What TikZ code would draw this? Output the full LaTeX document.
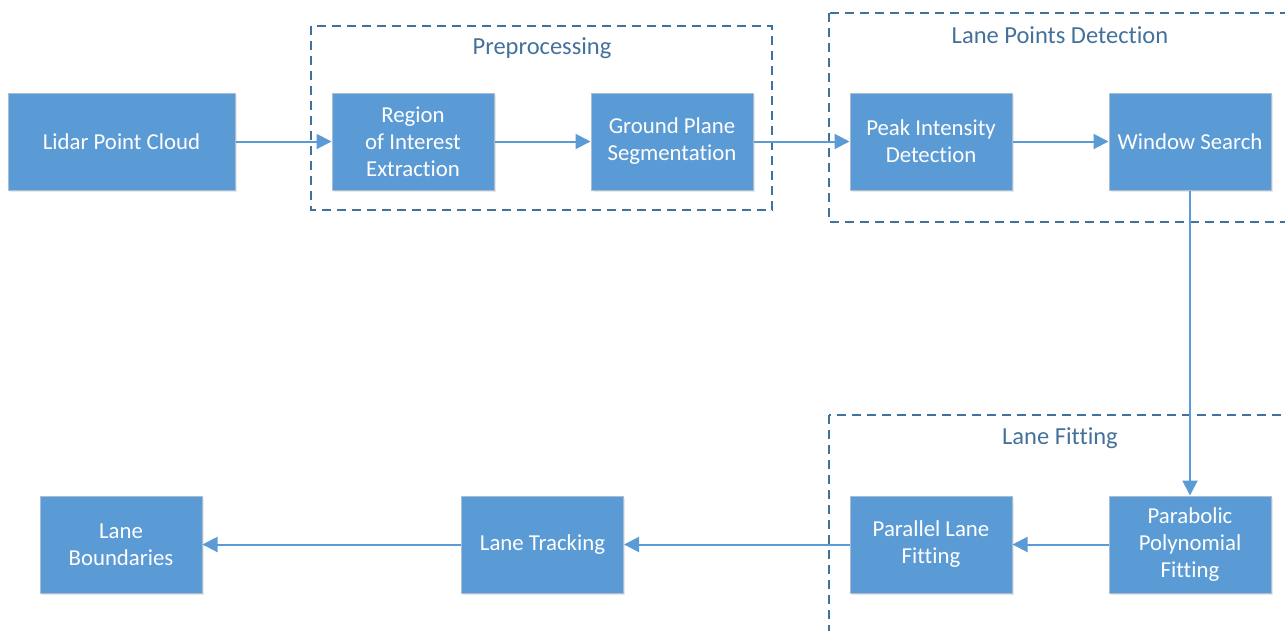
\documentclass[tikz,border=0pt]{standalone}
\usepackage{fontspec}
\setmainfont{Carlito}[Ligatures=NoCommon]
\usetikzlibrary{arrows.meta,shadows}
\definecolor{boxfill}{HTML}{5B9BD5}
\definecolor{boxedge}{HTML}{A9BED3}
\definecolor{grpedge}{HTML}{41719C}
\definecolor{grptext}{HTML}{44709C}
\definecolor{arrowc}{HTML}{5B9BD5}
\tikzset{
  stage/.style={draw=boxedge, line width=1pt, fill=boxfill, text=white,
    minimum width=162pt, minimum height=97pt, align=center,
    font=\fontsize{22.8}{27}\selectfont, inner sep=0pt,
    drop shadow={opacity=0.18, shadow xshift=1.5pt, shadow yshift=-2pt}},
  group/.style={draw=grpedge, line width=1.4pt, dash pattern=on 9pt off 6pt},
  grouptitle/.style={text=grptext, font=\fontsize{24.5}{27}\selectfont, inner sep=0pt},
  flow/.style={draw=arrowc, line width=2pt, -{Triangle[length=15pt,width=15pt]}}
}
\begin{document}
\begin{tikzpicture}[x=1pt,y=-1pt]
\useasboundingbox (0,0) rectangle (1285,630);
\clip (0,0) rectangle (1285,630);
% groups
\draw[group] (311,26) rectangle (772,210);
\node[grouptitle] (tpre) at (542,48) {Preprocessing};
\draw[group] (829,13) rectangle (1300,222);
\node[grouptitle] (tlpd) at (1060,35) {Lane Points Detection};
\draw[group] (829,415) rectangle (1300,650);
\node[grouptitle] (tlf) at (1060,438) {Lane Fitting};
% stages
\node[stage, minimum width=227pt] (lidar) at (121.5,141.5) {Lidar Point Cloud};
\node[stage] (roi) at (413,141.5) {Region\\of Interest\\Extraction};
\node[stage] (gp) at (672,141.5) {Ground Plane\\Segmentation};
\node[stage] (peak) at (931,141.5) {Peak Intensity\\Detection};
\node[stage] (ws) at (1190,141.5) {Window Search};
\node[stage] (para) at (1190,544.5) {Parabolic\\Polynomial\\Fitting};
\node[stage] (pl) at (931,544.5) {Parallel Lane\\Fitting};
\node[stage] (lt) at (542.5,544.5) {Lane Tracking};
\node[stage] (lb) at (121,544.5) {Lane\\Boundaries};
% connectors
\draw[flow] (lidar) -- (roi);
\draw[flow] (roi) -- (gp);
\draw[flow] (gp) -- (peak);
\draw[flow] (peak) -- (ws);
\draw[flow] (ws) -- (para);
\draw[flow] (para) -- (pl);
\draw[flow] (pl) -- (lt);
\draw[flow] (lt) -- (lb);
\end{tikzpicture}
\end{document}
